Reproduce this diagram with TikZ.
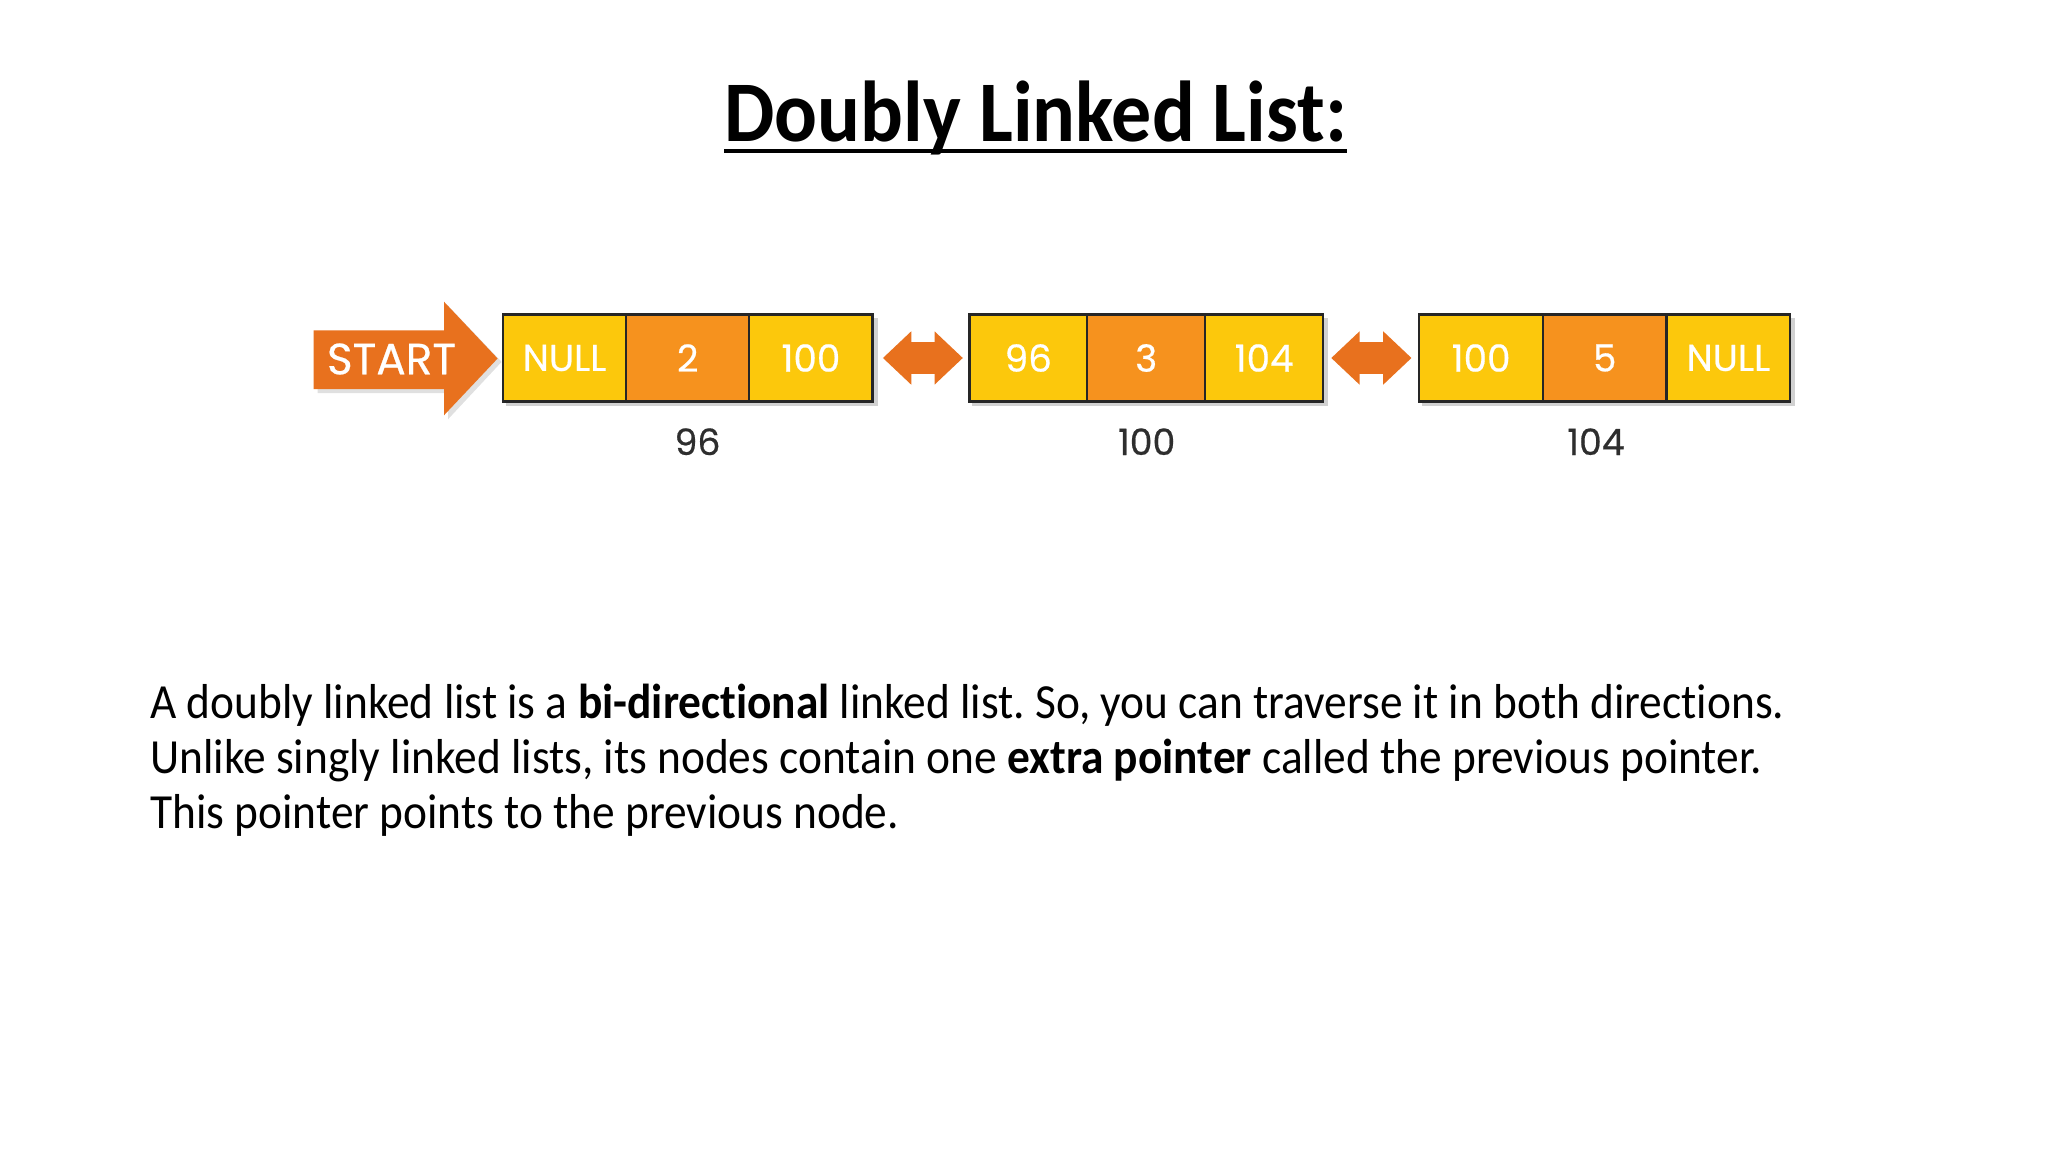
\documentclass[tikz,border=0pt]{standalone}
\usepackage{fontspec}
\setmainfont[Ligatures=NoCommon]{Carlito}
\newfontfamily\geo[FakeBold=0.5]{Poppins}
\usetikzlibrary{arrows.meta}
\definecolor{cellY}{RGB}{252,200,12}
\definecolor{cellO}{RGB}{246,146,30}
\definecolor{arrO}{RGB}{232,113,30}
\newdimen\px \px=0.46875pt
\frenchspacing
\begin{document}
\begin{tikzpicture}[x=0.46875pt,y=-0.46875pt,
  cellbox/.style={draw=black!85, line width=1.1pt, minimum height=87\px, inner sep=0pt,
     text=white, font=\geo\fontsize{17.5}{18}\selectfont},
  ycell/.style={cellbox, fill=cellY},
  ocell/.style={cellbox, fill=cellO},
  addr/.style={font=\geo\fontsize{17}{18}\selectfont, text=black!82},
  dbl/.style={arrO, line width=14.8pt, {Triangle[length=13.3pt,width=24.2pt]}-{Triangle[length=13.3pt,width=24.2pt]}},
  shad/.style={fill=black, opacity=0.18},
  body/.style={font=\fontsize{23}{26}\selectfont, anchor=base west, inner sep=0pt, xscale=0.925}
]
\fill[white] (0,0) rectangle (2048,1152);

% title
\node[font=\bfseries\fontsize{40.5}{48}\selectfont, anchor=base, inner sep=0pt, xscale=0.925] (title) at (1035.7,142) {Doubly Linked List:};
\draw[line width=3.6\px] ([shift={(0,9)}]title.base west) -- ([shift={(0,9)}]title.base east);

% START arrow
\fill[black, opacity=0.12] (317.5,334.4) -- (448,334.4) -- (448,305.7) -- (501.6,361.9) -- (448,419.3) -- (448,393.2) -- (317.5,393.2) -- cycle;
\fill[arrO] (313.5,330.4) -- (444,330.4) -- (444,301.7) -- (497.6,358.5) -- (444,415.3) -- (444,389.2) -- (313.5,389.2) -- cycle;
\node[font=\geo\fontsize{20.5}{22}\selectfont, text=white, inner sep=0pt] (start) at (391.5,359) {START};

% shadows (drawn first, under the boxes)
\fill[shad] (505.9,317.8) rectangle (877.5,406);
\fill[shad] (972.3,317.8) rectangle (1328,406);
\fill[shad] (1422.3,317.8) rectangle (1795,406);

% node 1
\node[ycell, minimum width=123.2\px] (a1) at (564.5,358) {NULL};
\node[ocell, minimum width=123.2\px] (a2) at (687.7,358) {2};
\node[ycell, minimum width=123.2\px] (a3) at (810.9,358) {100};
% node 2
\node[ycell, minimum width=117.9\px] (b1) at (1028.3,358) {96};
\node[ocell, minimum width=117.9\px] (b2) at (1146.2,358) {3};
\node[ycell, minimum width=117.9\px] (b3) at (1264.1,358) {104};
% node 3
\node[ycell, minimum width=123.6\px] (c1) at (1481.1,358) {100};
\node[ocell, minimum width=123.6\px] (c2) at (1604.7,358) {5};
\node[ycell, minimum width=123.6\px] (c3) at (1728.3,358) {NULL};

% connectors
\draw[dbl] ([shift={(9.2,0)}]a3.east) -- ([shift={(-5.3,0)}]b1.west);
\draw[dbl] ([shift={(7,0)}]b3.east) -- ([shift={(-6.6,0)}]c1.west);

% addresses
\node[addr] (la) at (697.5,441.7) {96};
\node[addr] (lb) at (1146.7,441.7) {100};
\node[addr] (lc) at (1596,441.7) {104};

% body text
\node[body] (t1) at (150,718) {A doubly linked list is a \textbf{bi-directional} linked list. So, you can traverse it in both directions.};
\node[body] (t2) at (150,773) {Unlike singly linked lists, its nodes contain one \textbf{extra pointer} called the previous pointer.};
\node[body] (t3) at (150,828) {This pointer points to the previous node.};
\end{tikzpicture}
\end{document}
